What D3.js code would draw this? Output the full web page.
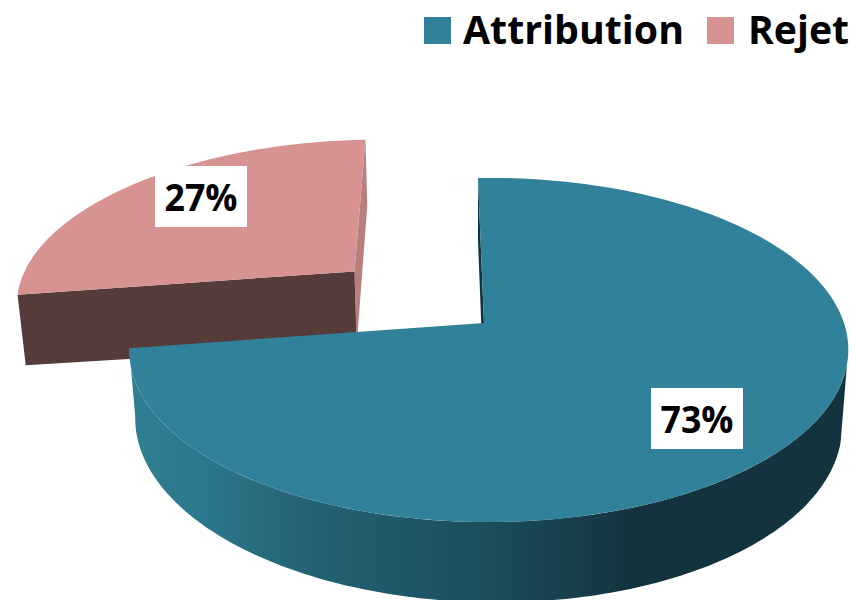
<!DOCTYPE html>
<html><head><meta charset="utf-8">
<style>html,body{margin:0;padding:0;background:#fff}svg{display:block}</style>
<script src="https://cdn.jsdelivr.net/npm/d3@7"></script></head>
<body><svg id="c" width="856" height="600"></svg>
<script>
const categories = ["Attribution", "Rejet"];
const values = [73, 27];
const labels = ["73%", "27%"];
const topColors = ["#31819a", "#d79392"];
const wallColors = ["#12343f", "#563b3b"];
const sliverColors = ["#12343f", "#b87f7d"];
const explode = [0, 0.505];
const depth = [1, 1.1];

const svg = d3.select("#c");
const cx = 484, cy = 323, a = 355, b = 167.8, s = 7, p = 0.157, h = 72.5, w = 3.5, q = 0.017, r = 0.01, t = -4;
function proj(u, v, z) {
  const den = 1 - p * v - r * u + q * z;
  return [cx + (a * u + s * v) / den, cy + (b * v + t * u + (h + w * u) * z) / den];
}
const arcs = d3.pie().sort(null).startAngle(0).endAngle(2 * Math.PI)(values);
const line = d3.line().curve(d3.curveLinear);
function geom(d, i) {
  const mid = (d.startAngle + d.endAngle) / 2;
  const ox = Math.sin(mid) * explode[i], oy = -Math.cos(mid) * explode[i];
  const rim = (th, z) => proj(ox + Math.sin(th), oy - Math.cos(th), z * depth[i]);
  const apex = z => proj(ox, oy, z * depth[i]);
  const range = (t0, t1) => d3.range(0, 161).map(k => t0 + (t1 - t0) * k / 160);
  return {rim, apex, range};
}

const defs = svg.append("defs");
const grad = defs.append("linearGradient").attr("id", "tealWall").attr("gradientUnits", "userSpaceOnUse")
  .attr("x1", 131).attr("x2", 847).attr("y1", 0).attr("y2", 0);
[[0, "#2f7f93"], [0.12, "#2b7589"], [0.26, "#236172"], [0.5, "#1c4d5d"], [0.7, "#13343f"], [1, "#13343f"]]
  .forEach(([o, c]) => grad.append("stop").attr("offset", o).attr("stop-color", c));

// Rejet (behind)
{
  const d = arcs[1], g = geom(d, 1);
  svg.append("path").attr("fill", sliverColors[1])
    .attr("d", line([g.apex(0), g.rim(d.endAngle, 0), g.rim(d.endAngle, 1), g.apex(1)]) + "Z");
  svg.append("path").attr("fill", wallColors[1])
    .attr("d", line([g.apex(0), g.rim(d.startAngle, 0), g.rim(d.startAngle, 1), g.apex(1)]) + "Z");
  svg.append("path").attr("fill", topColors[1])
    .attr("d", line([g.apex(0), ...g.range(d.startAngle, d.endAngle).map(th => g.rim(th, 0))]) + "Z");
}
// Attribution
{
  const d = arcs[0], g = geom(d, 0);
  svg.append("path").attr("fill", sliverColors[0])
    .attr("d", line([g.apex(0), g.rim(d.startAngle, 0), g.rim(d.startAngle, 1), g.apex(1)]) + "Z");
  const ts = g.range(Math.PI * 105 / 180, d.endAngle);
  svg.append("path").attr("fill", "url(#tealWall)")
    .attr("d", line([...ts.map(th => g.rim(th, 0)), ...ts.slice().reverse().map(th => g.rim(th, 1))]) + "Z");
  svg.append("path").attr("fill", topColors[0])
    .attr("d", line([g.apex(0), ...g.range(d.startAngle, d.endAngle).map(th => g.rim(th, 0))]) + "Z");
}

// Data labels
const labelPos = [[697, 418.5], [201, 196.5]];
labels.forEach((txt, i) => {
  const G = svg.append("g");
  G.append("rect").attr("x", labelPos[i][0] - 46).attr("y", labelPos[i][1] - 30.5)
    .attr("width", 92).attr("height", 61).attr("fill", "#fff");
  G.append("text").text(txt).attr("x", labelPos[i][0]).attr("y", labelPos[i][1] + 14.5)
    .attr("text-anchor", "middle")
    .attr("font-family", "'Open Sans'").attr("font-weight", 700).attr("font-size", 38).attr("fill", "#000")
    .attr("textLength", 73).attr("lengthAdjust", "spacingAndGlyphs");
});

// Legend
const legendX = [424, 707], legendTextX = [463, 748], legendLen = [221, 101];
categories.forEach((c, i) => {
  svg.append("rect").attr("x", legendX[i]).attr("y", 17).attr("width", 27).attr("height", 27).attr("fill", topColors[i]);
  svg.append("text").text(c).attr("x", legendTextX[i]).attr("y", 43.5)
    .attr("font-family", "'Open Sans'").attr("font-weight", 700).attr("font-size", 40).attr("fill", "#000")
    .attr("textLength", legendLen[i]).attr("lengthAdjust", "spacingAndGlyphs");
});
</script></body></html>
